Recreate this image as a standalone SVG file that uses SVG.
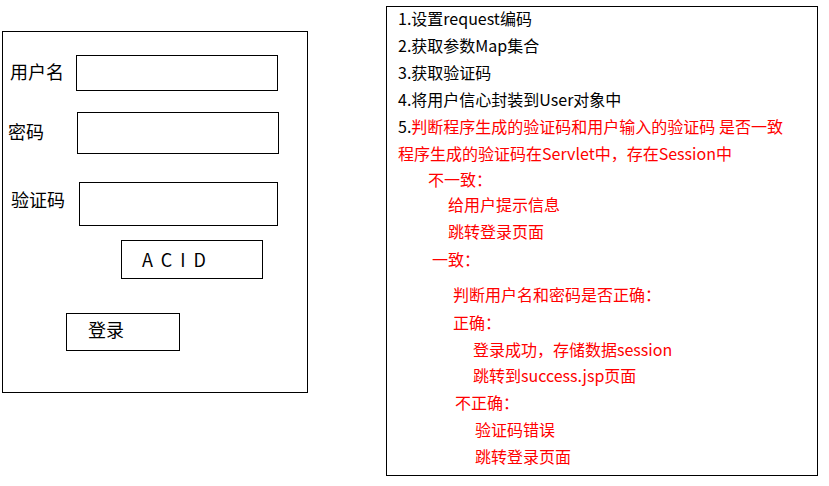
<svg xmlns="http://www.w3.org/2000/svg" width="829" height="486" viewBox="0 0 829 486">
<style>
  .box { fill: #ffffff; stroke: #000000; stroke-width: 1; }
  .lbl { font-family: "Noto Sans CJK SC", "Noto Sans", sans-serif; font-size: 18px; fill: #000000; }
  .t { font-family: "Noto Sans CJK SC", "Noto Sans", sans-serif; font-size: 16px; fill: #000000; }
  .r { fill: #ff0000; }
</style>
<rect width="829" height="486" fill="#ffffff"/>
<g id="login-form">
  <rect class="box" x="2.5" y="31.5" width="305" height="361"/>
  <g id="username">
    <text class="lbl" x="10" y="79">用户名</text>
    <rect class="box" x="76.5" y="55.5" width="201" height="35"/>
  </g>
  <g id="password">
    <text class="lbl" x="8" y="139">密码</text>
    <rect class="box" x="77.5" y="112.5" width="201" height="41"/>
  </g>
  <g id="captcha">
    <text class="lbl" x="11" y="207">验证码</text>
    <rect class="box" x="79.5" y="182.5" width="198" height="43"/>
  </g>
  <g id="captcha-image">
    <rect class="box" x="121.5" y="240.5" width="141" height="38"/>
    <text class="lbl" x="142" y="267" letter-spacing="8">ACID</text>
  </g>
  <g id="login-button">
    <rect class="box" x="66.5" y="313.5" width="113" height="37"/>
    <text class="lbl" x="88" y="337">登录</text>
  </g>
</g>
<g id="servlet-steps">
  <rect class="box" x="386.5" y="6.5" width="431" height="469"/>
  <text class="t" x="398" y="25">1.设置request编码</text>
  <text class="t" x="398" y="52">2.获取参数Map集合</text>
  <text class="t" x="398" y="79">3.获取验证码</text>
  <text class="t" x="398" y="106">4.将用户信心封装到User对象中</text>
  <text class="t" x="398" y="133">5.<tspan class="r">判断程序生成的验证码和用户输入的验证码 是否一致</tspan></text>
  <text class="t r" x="398" y="160">程序生成的验证码在Servlet中，存在Session中</text>
  <text class="t r" x="428" y="186">不一致：</text>
  <text class="t r" x="448" y="211">给用户提示信息</text>
  <text class="t r" x="448" y="238">跳转登录页面</text>
  <text class="t r" x="432" y="266">一致：</text>
  <text class="t r" x="453" y="301">判断用户名和密码是否正确：</text>
  <text class="t r" x="453" y="329">正确：</text>
  <text class="t r" x="473" y="356">登录成功，存储数据session</text>
  <text class="t r" x="473" y="382">跳转到success.jsp页面</text>
  <text class="t r" x="455" y="409">不正确：</text>
  <text class="t r" x="475" y="436">验证码错误</text>
  <text class="t r" x="475" y="463">跳转登录页面</text>
</g>
</svg>
